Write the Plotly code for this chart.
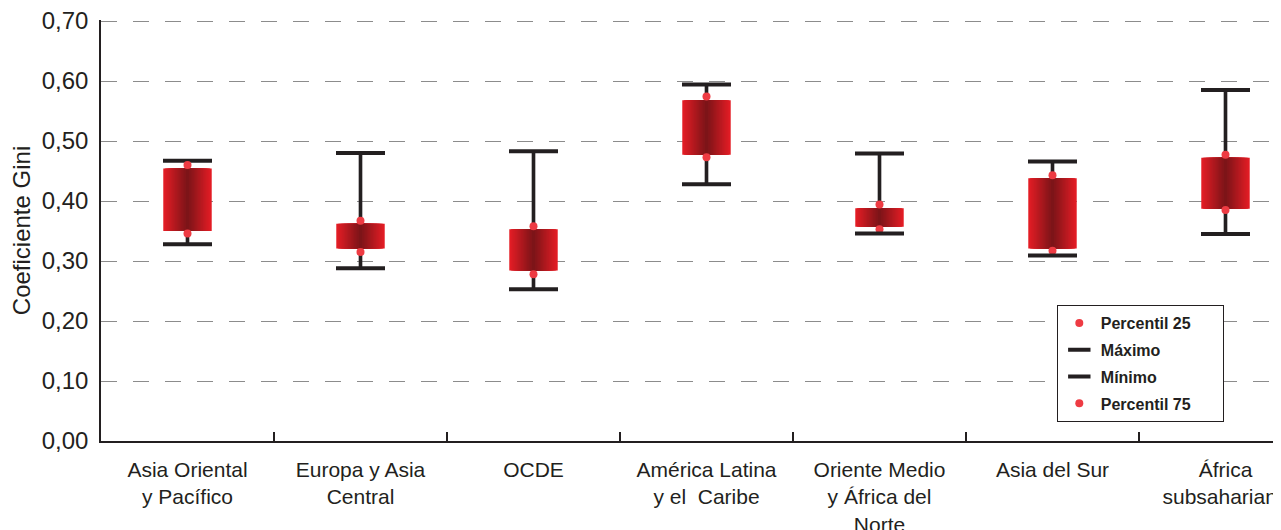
import plotly.graph_objects as go

# ---- data ----
categorias = [
    "Asia Oriental<br>y Pacífico",
    "Europa y Asia<br>Central",
    "OCDE",
    "América Latina<br>y el\u00a0 Caribe",
    "Oriente Medio<br>y África del<br>Norte",
    "Asia del Sur",
    "África<br>subsahariana",
]
maximo = [0.467, 0.480, 0.483, 0.594, 0.479, 0.466, 0.585]
percentil_75 = [0.460, 0.367, 0.358, 0.574, 0.394, 0.443, 0.477]
caja_superior = [0.454, 0.362, 0.353, 0.568, 0.388, 0.438, 0.472]
caja_inferior = [0.350, 0.321, 0.284, 0.477, 0.357, 0.321, 0.387]
percentil_25 = [0.346, 0.315, 0.278, 0.473, 0.353, 0.317, 0.385]
minimo = [0.328, 0.288, 0.253, 0.428, 0.346, 0.309, 0.345]
y_ticks = [0.0, 0.1, 0.2, 0.3, 0.4, 0.5, 0.6, 0.7]

# ---- styles ----
DARK = "#231f20"
DOT = "#ee3b43"
EDGE = (227, 29, 37)
CENTER = (125, 20, 24)
FONT = "Liberation Sans, Arial, sans-serif"
BOX_W = 0.28
N_STEPS = 16
PAD = "\u00a0" * 6

fig = go.Figure()

# whisker (vertical line min -> max) drawn as a thin bar beneath the box
fig.add_trace(go.Bar(
    x=categorias,
    y=[mx - mn for mx, mn in zip(maximo, minimo)],
    base=minimo,
    width=0.021,
    marker=dict(color=DARK, line=dict(width=0)),
    showlegend=False, hoverinfo="skip",
))

# box with horizontal gradient (overlaid bars of decreasing width)
heights = [t - b for t, b in zip(caja_superior, caja_inferior)]
for k in range(N_STEPS):
    t = k / (N_STEPS - 1)
    col = "rgb({},{},{})".format(*[round(e + (c - e) * t) for e, c in zip(EDGE, CENTER)])
    fig.add_trace(go.Bar(
        x=categorias, y=heights, base=caja_inferior,
        width=BOX_W * (1 - k / N_STEPS),
        marker=dict(color=col, line=dict(width=0)),
        showlegend=False, hoverinfo="skip",
    ))

fig.add_trace(go.Scatter(
    x=categorias, y=percentil_25, mode="markers", name="Percentil 25" + PAD,
    marker=dict(size=8, color=DOT), legendgroup="a",
))
fig.add_trace(go.Scatter(
    x=categorias, y=maximo, mode="markers", name="Máximo",
    marker=dict(symbol="line-ew", size=35, line=dict(width=4, color=DARK)),
    legendgroup="b",
))
fig.add_trace(go.Scatter(
    x=categorias, y=minimo, mode="markers", name="Mínimo",
    marker=dict(symbol="line-ew", size=35, line=dict(width=4, color=DARK)),
    legendgroup="c",
))
fig.add_trace(go.Scatter(
    x=categorias, y=percentil_75, mode="markers", name="Percentil 75" + PAD,
    marker=dict(size=8, color=DOT), legendgroup="d",
))

fig.update_layout(
    width=1273, height=522,
    margin=dict(l=93, r=0, t=12, b=89, autoexpand=False),
    paper_bgcolor="white", plot_bgcolor="white",
    barmode="overlay",
    separators=",.",
    font=dict(family=FONT, color=DARK, size=21),
    hovermode=False,
    legend=dict(
        x=0.810, y=0.323, xanchor="left", yanchor="top",
        bgcolor="white", bordercolor=DARK, borderwidth=1,
        font=dict(family=FONT, size=16, color=DARK, weight="bold"),
        traceorder="grouped", tracegroupgap=3, itemwidth=33,
    ),
)
fig.update_xaxes(
    type="category",
    range=[-0.5, -0.5 + 1180 / 173],
    showline=True, linecolor=DARK, linewidth=1.5,
    ticks="inside", tickson="boundaries", ticklen=9, tickcolor=DARK, tickwidth=1.5,
    showgrid=False, automargin=False,
    tickfont=dict(size=21, color=DARK),
    ticklabelstandoff=9, ticklabeloverflow="allow",
)
fig.update_yaxes(
    range=[0, 0.7017],
    tickvals=y_ticks, tickformat=".2f",
    showgrid=True, gridcolor="#8c8c8c", gridwidth=1.2, griddash="16px,16px",
    showline=True, linecolor=DARK, linewidth=1.5,
    zeroline=False, ticks="", automargin=False,
    tickfont=dict(size=24, color=DARK),
    ticklabelstandoff=6, ticklabeloverflow="allow",
    title=dict(text="Coeficiente Gini", font=dict(size=24, color=DARK), standoff=8),
)

fig.write_html("out.html")
